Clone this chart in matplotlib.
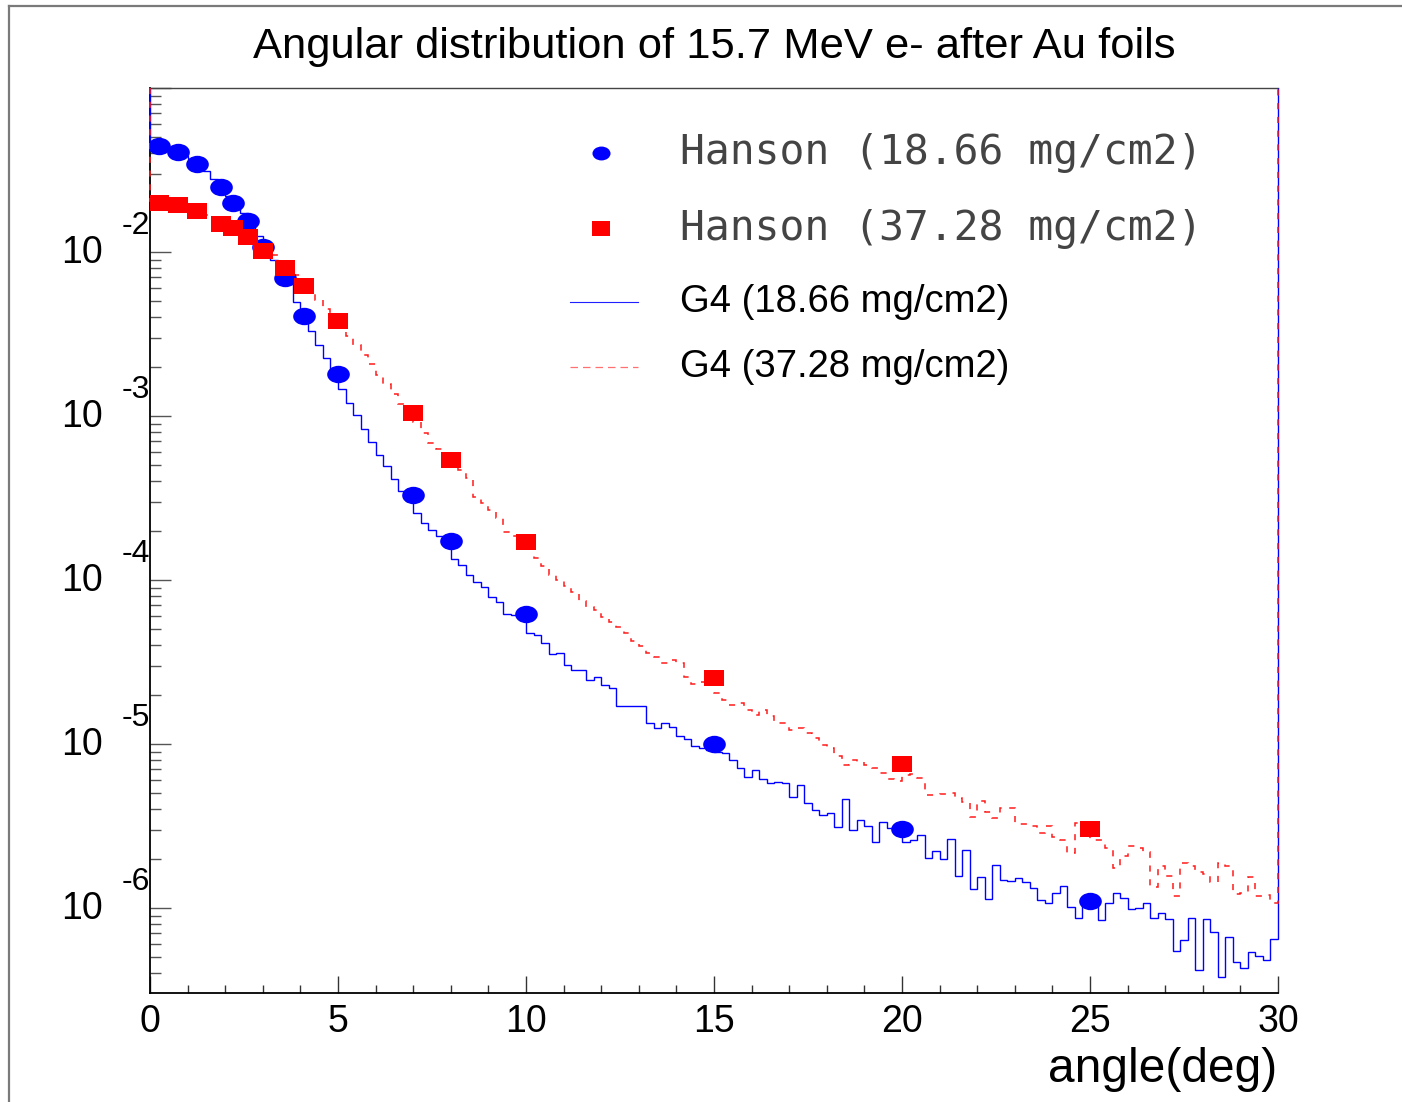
import matplotlib
matplotlib.use("Agg")
import matplotlib.pyplot as plt
import numpy as np
from matplotlib.path import Path
from matplotlib.ticker import MultipleLocator, LogLocator, NullFormatter
from matplotlib.transforms import Affine2D, ScaledTranslation, blended_transform_factory

W, H = 1402, 1102
DPI = 100

plt.rcParams["font.family"] = ["Liberation Sans", "DejaVu Sans"]

# Hanson et al. measurements
hanson_angle = [0.25, 0.75, 1.25, 1.9, 2.2, 2.6, 3.0, 3.6, 4.1, 5, 7, 8, 10, 15, 20, 25]
hanson_thin = [0.0441, 0.0409, 0.0344, 0.0250, 0.0200, 0.0155, 0.0108, 0.00694, 0.00409,
               0.00181, 3.31e-4, 1.73e-4, 6.2e-5, 1.0e-5, 3.03e-6, 1.10e-6]
hanson_thick = [0.0199, 0.0194, 0.0177, 0.0148, 0.0140, 0.0123, 0.0102, 0.0080, 0.0062,
                0.0038, 1.05e-3, 5.4e-4, 1.71e-4, 2.52e-5, 7.55e-6, 3.03e-6]

# G4 histograms, 150 bins of 0.2 deg from 0 to 30, stored as log10(content)
angle_min, angle_max, n_bins = 0.0, 30.0, 150
g4_thin_log10 = [
    -1.348, -1.366, -1.376, -1.390, -1.416, -1.431, -1.463, -1.504, -1.553, -1.602,
    -1.660, -1.699, -1.762, -1.813, -1.904, -1.956, -2.051, -2.108, -2.169, -2.305,
    -2.388, -2.484, -2.565, -2.646, -2.727, -2.835, -2.921, -2.996, -3.079, -3.159,
    -3.236, -3.307, -3.382, -3.459, -3.520, -3.591, -3.652, -3.693, -3.729, -3.774,
    -3.874, -3.909, -3.970, -4.014, -4.041, -4.102, -4.132, -4.207, -4.213, -4.224,
    -4.325, -4.335, -4.381, -4.454, -4.447, -4.518, -4.546, -4.546, -4.610, -4.590,
    -4.640, -4.660, -4.767, -4.767, -4.767, -4.767, -4.870, -4.904, -4.874, -4.899,
    -4.948, -4.968, -5.011, -5.026, -5.034, -5.047, -5.055, -5.098, -5.149, -5.198,
    -5.156, -5.215, -5.236, -5.230, -5.240, -5.323, -5.248, -5.360, -5.402, -5.433,
    -5.419, -5.508, -5.337, -5.527, -5.463, -5.502, -5.596, -5.477, -5.512, -5.524,
    -5.596, -5.587, -5.556, -5.697, -5.654, -5.702, -5.581, -5.805, -5.649, -5.882,
    -5.809, -5.944, -5.738, -5.829, -5.834, -5.819, -5.840, -5.876, -5.951, -5.971,
    -5.910, -5.868, -5.996, -6.059, -5.962, -5.971, -6.073, -5.971, -5.910, -5.941,
    -6.008, -5.998, -5.971, -6.059, -6.032, -6.067, -6.260, -6.195, -6.059, -6.378,
    -6.067, -6.148, -6.419, -6.175, -6.331, -6.368, -6.267, -6.293, -6.317, -6.191,
]
g4_thick_log10 = [
    -1.689, -1.698, -1.707, -1.713, -1.723, -1.735, -1.753, -1.774, -1.799, -1.823,
    -1.841, -1.860, -1.884, -1.909, -1.939, -1.976, -2.018, -2.055, -2.091, -2.140,
    -2.189, -2.250, -2.293, -2.348, -2.390, -2.457, -2.512, -2.567, -2.626, -2.683,
    -2.747, -2.805, -2.866, -2.924, -2.976, -3.037, -3.102, -3.165, -3.201, -3.244,
    -3.287, -3.329, -3.378, -3.491, -3.530, -3.573, -3.622, -3.706, -3.732, -3.756,
    -3.805, -3.866, -3.915, -3.970, -4.000, -4.037, -4.073, -4.128, -4.163, -4.183,
    -4.226, -4.256, -4.287, -4.325, -4.369, -4.402, -4.447, -4.470, -4.504, -4.490,
    -4.506, -4.591, -4.634, -4.622, -4.610, -4.691, -4.732, -4.762, -4.748, -4.793,
    -4.820, -4.790, -4.829, -4.872, -4.870, -4.915, -4.901, -4.933, -4.965, -5.006,
    -5.024, -5.071, -5.128, -5.098, -5.110, -5.128, -5.146, -5.177, -5.213, -5.226,
    -5.189, -5.183, -5.207, -5.311, -5.311, -5.305, -5.301, -5.329, -5.351, -5.445,
    -5.346, -5.415, -5.451, -5.390, -5.392, -5.488, -5.488, -5.500, -5.543, -5.500,
    -5.564, -5.585, -5.663, -5.482, -5.512, -5.584, -5.585, -5.634, -5.754, -5.683,
    -5.620, -5.632, -5.659, -5.870, -5.744, -5.805, -5.929, -5.724, -5.744, -5.780,
    -5.793, -5.841, -5.727, -5.744, -5.913, -5.909, -5.813, -5.927, -5.918, -5.970,
]

decades = [-2, -3, -4, -5, -6]
x_major = [0, 5, 10, 15, 20, 25, 30]
y_low, y_high = 10 ** -6.518, 0.1

legend_labels = ["Hanson (18.66 mg/cm2)", "Hanson (37.28 mg/cm2)",
                 "G4 (18.66 mg/cm2)", "G4 (37.28 mg/cm2)"]


def fx(x):
    return x / W


def fy(y):
    return 1 - y / H


# ROOT style markers are a bit wider than tall in this picture
ellipse = Path.unit_circle().transformed(Affine2D().scale(1.3, 1.0))
rect = Path([(-1.25, -1), (1.25, -1), (1.25, 1), (-1.25, 1), (-1.25, -1)], closed=True)

fig = plt.figure(figsize=(W / DPI, H / DPI), dpi=DPI)
fig.patch.set_facecolor("white")

# canvas bevel lines
fig.add_artist(plt.Line2D([fx(8.5), fx(8.5)], [fy(6), 0], color="#7a7a7a", lw=1.6,
                          transform=fig.transFigure))
fig.add_artist(plt.Line2D([fx(8.5), 1], [fy(6), fy(6)], color="#7a7a7a", lw=1.6,
                          transform=fig.transFigure))

ax = fig.add_axes([fx(150), fy(993), fx(1278) - fx(150), fy(88) - fy(993)])
ax.set_yscale("log")
ax.set_xlim(angle_min, angle_max)
ax.set_ylim(y_low, y_high)

edges = np.linspace(angle_min, angle_max, n_bins + 1)
thin_vals = 10 ** np.array(g4_thin_log10)
thick_vals = 10 ** np.array(g4_thick_log10)

ax.stairs(thin_vals, edges, baseline=y_high, color="#0000ff", lw=1.0, zorder=2.6,
          clip_on=False)
ax.stairs(thick_vals, edges, baseline=y_high, color="#ff1a1a", lw=1.1,
          linestyle=(0, (4, 5)), zorder=2.7, clip_on=False)

ax.plot(hanson_angle, hanson_thin, linestyle="none", marker=ellipse, ms=16.3,
        color="#0000ff", mew=0, zorder=3)
ax.plot(hanson_angle, hanson_thick, linestyle="none", marker=rect, ms=14.6,
        color="#ff0000", mew=0, zorder=4)

# axes frame
for side in ["left", "bottom"]:
    ax.spines[side].set_linewidth(1.3)
    ax.spines[side].set_color("black")
ax.spines["top"].set_linewidth(1.0)
ax.spines["top"].set_color("#444444")
ax.spines["right"].set_visible(False)

ax.xaxis.set_major_locator(MultipleLocator(5))
ax.xaxis.set_minor_locator(MultipleLocator(1))
ax.yaxis.set_major_locator(LogLocator(base=10, numticks=20))
ax.yaxis.set_minor_locator(LogLocator(base=10, subs=np.arange(2, 10), numticks=20))
ax.yaxis.set_major_formatter(NullFormatter())
ax.yaxis.set_minor_formatter(NullFormatter())

ax.tick_params(axis="x", which="major", direction="in", length=12, width=1.0,
               color="#333333", labelsize=27, pad=8, top=False)
ax.tick_params(axis="x", which="minor", direction="in", length=6, width=1.0,
               color="#333333", top=False)
ax.tick_params(axis="y", which="major", direction="in", length=15, width=1.0,
               color="#555555", right=False)
ax.tick_params(axis="y", which="minor", direction="in", length=7.7, width=1.0,
               color="#555555", right=False)
ax.set_xticks(x_major)
ax.set_xticklabels([str(v) for v in x_major])

# ROOT style "10" with raised exponent
ytrans = blended_transform_factory(ax.transAxes, ax.transData)
for d in decades:
    off_base = ScaledTranslation(-68 / DPI, -1 / DPI, fig.dpi_scale_trans)
    off_exp = ScaledTranslation(-14 / DPI, 26 / DPI, fig.dpi_scale_trans)
    ax.text(0, 10.0 ** d, "10", transform=ytrans + off_base, ha="center",
            va="center", fontsize=27)
    ax.text(0, 10.0 ** d, str(d), transform=ytrans + off_exp, ha="center",
            va="center", fontsize=23)

fig.text(fx(1277), fy(1070), "angle(deg)", ha="right", va="center", fontsize=34.5)
fig.text(fx(714), fy(47), "Angular distribution of 15.7 MeV e- after Au foils",
         ha="center", va="center", fontsize=31.3)

# legend, drawn ROOT style without a frame
ax.plot([fx(601)], [fy(153)], transform=fig.transFigure, marker=ellipse, ms=13,
        color="#0000ff", mew=0, clip_on=False)
ax.plot([fx(601)], [fy(228)], transform=fig.transFigure, marker=rect, ms=13.5,
        color="#ff0000", mew=0, clip_on=False)
ax.plot([fx(570), fx(638)], [fy(302), fy(302)], transform=fig.transFigure,
        color="#2020ff", lw=0.8, clip_on=False)
ax.plot([fx(570), fx(638)], [fy(367), fy(367)], transform=fig.transFigure,
        color="#ff7070", lw=0.9, linestyle=(0, (6, 4)), clip_on=False)

for lab, y in zip(legend_labels[:2], [153, 229]):
    fig.text(fx(680), fy(y), lab, ha="left", va="center", fontsize=29.8,
             family=["DejaVu Sans Mono", "DejaVu Sans"], color="#444444")
for lab, y in zip(legend_labels[2:], [302, 367]):
    fig.text(fx(680), fy(y), lab, ha="left", va="center", fontsize=27.5)

fig.savefig("out.png", dpi=DPI, facecolor="white")
